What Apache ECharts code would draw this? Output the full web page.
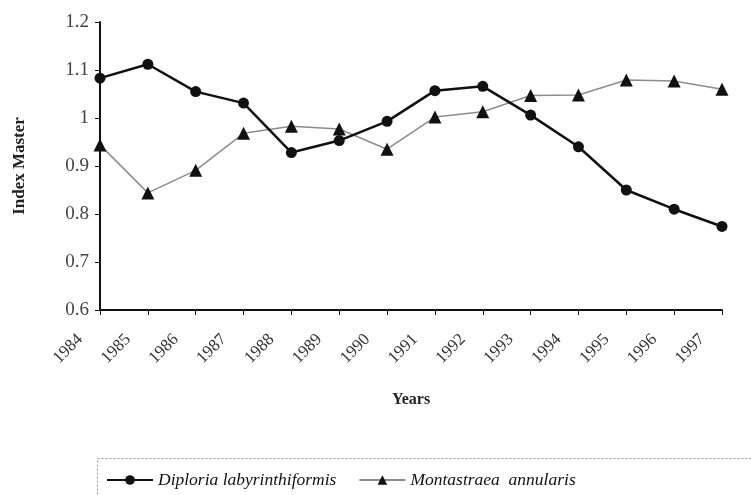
<!DOCTYPE html>
<html>
<head>
<meta charset="utf-8">
<script src="https://cdn.jsdelivr.net/npm/echarts@6/dist/echarts.min.js"></script>
<style>
  html, body { margin: 0; padding: 0; background: #ffffff; }
  #chart { width: 751px; height: 495px; }
</style>
</head>
<body>
<div id="chart"></div>
<script>
// Index Master by year, two coral species
const years = ['1984', '1985', '1986', '1987', '1988', '1989', '1990',
  '1991', '1992', '1993', '1994', '1995', '1996', '1997']
const diploria = [1.083, 1.112, 1.055, 1.031, 0.928, 0.953, 0.993,
  1.057, 1.066, 1.006, 0.94, 0.85, 0.81, 0.774]
const montastraea = [0.944, 0.844, 0.891, 0.968, 0.983, 0.977, 0.935,
  1.002, 1.013, 1.047, 1.048, 1.079, 1.077, 1.06]

const serif = '"Liberation Serif", "DejaVu Serif", serif'

const chart = echarts.init(document.getElementById('chart'))

chart.setOption({
  animation: false,
  grid: { left: 100, right: 29, top: 22, bottom: 185 },
  legend: {
    left: 101,
    top: 466,
    itemWidth: 46,
    itemHeight: 12,
    itemGap: 22,
    textStyle: { fontFamily: serif, fontStyle: 'italic', fontSize: 17.5, color: '#111' },
    data: ['Diploria labyrinthiformis', 'Montastraea  annularis']
  },
  graphic: [{
    type: 'rect',
    shape: { x: 97.5, y: 458.5, width: 700, height: 60 },
    style: { fill: 'none', stroke: '#999', lineWidth: 1, lineDash: [2, 2] }
  }],
  xAxis: {
    type: 'category',
    data: years,
    boundaryGap: false,
    name: 'Years',
    nameLocation: 'middle',
    nameGap: 82,
    nameTextStyle: { fontFamily: serif, fontWeight: 'bold', fontSize: 16, color: '#222' },
    axisLine: { lineStyle: { color: '#111', width: 2 } },
    axisTick: { alignWithLabel: true, length: 5, lineStyle: { color: '#111', width: 1 } },
    axisLabel: {
      rotate: 45,
      margin: 7,
      padding: [0, 28, 0, 0],
      fontFamily: serif,
      fontSize: 17,
      color: '#333'
    }
  },
  yAxis: {
    type: 'value',
    min: 0.6,
    max: 1.2,
    interval: 0.1,
    name: 'Index Master',
    nameLocation: 'middle',
    nameGap: 72,
    nameTextStyle: { fontFamily: serif, fontWeight: 'bold', fontSize: 17, color: '#222' },
    axisLine: { show: true, lineStyle: { color: '#111', width: 2 } },
    axisTick: { show: true, length: 5, lineStyle: { color: '#111', width: 1 } },
    splitLine: { show: false },
    axisLabel: {
      margin: 11,
      fontFamily: serif,
      fontSize: 19,
      color: '#444',
      formatter: (v) => String(Math.round(v * 10) / 10)
    }
  },
  series: [
    {
      name: 'Diploria labyrinthiformis',
      type: 'line',
      data: diploria,
      symbol: 'circle',
      symbolSize: 11,
      z: 3,
      itemStyle: { color: '#111' },
      lineStyle: { color: '#111', width: 2.5 }
    },
    {
      name: 'Montastraea  annularis',
      type: 'line',
      data: montastraea,
      symbol: 'triangle',
      symbolSize: 13,
      z: 2,
      itemStyle: { color: '#111' },
      lineStyle: { color: '#8c8c8c', width: 1.5 }
    }
  ]
})
</script>
</body>
</html>
